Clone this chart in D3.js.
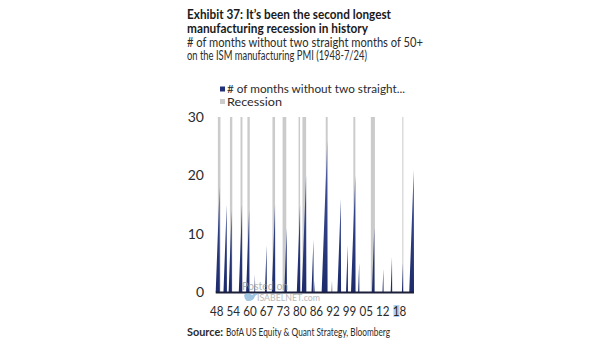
<!DOCTYPE html>
<html>
<head>
<meta charset="utf-8">
<script src="https://cdn.jsdelivr.net/npm/d3@7"></script>
<style>
  html, body { margin: 0; padding: 0; background: #fff; }
  svg { display: block; font-family: Lato, "Open Sans", sans-serif; }
</style>
</head>
<body>
<div id="chart"></div>
<script>
/* ISM manufacturing: months without two straight months of 50+ */

// NBER recessions, first and last month
const recessionStart = ['1948-11', '1953-07', '1957-08', '1960-04', '1969-12', '1973-11',
                        '1980-01', '1981-07', '1990-07', '2001-03', '2007-12', '2020-02'];
const recessionEnd   = ['1949-10', '1954-05', '1958-04', '1961-02', '1970-11', '1975-03',
                        '1980-07', '1982-11', '1991-03', '2001-11', '2009-06', '2020-04'];

// each run of the counter: month it peaked, and the count reached that month
const streakEnd    = ['1949-07', '1952-04', '1954-03', '1958-03', '1960-12', '1963-03',
                      '1967-09', '1970-12', '1975-06', '1980-08', '1982-12', '1985-10',
                      '1986-04', '1991-02', '1992-12', '1996-05', '1999-01', '2001-12',
                      '2003-06', '2009-04', '2012-10', '2016-02', '2020-05', '2024-07'];
const streakMonths = [18, 15, 14, 15, 14, 3,
                      8, 15, 11, 15, 20, 9,
                      2, 26, 2, 16, 8, 20,
                      5, 11, 4, 6, 5, 21];

// category axis labels, one every 77 months
const tickDates  = ['1948-01', '1954-06', '1960-11', '1967-04', '1973-09', '1980-02',
                    '1986-07', '1992-12', '1999-05', '2005-10', '2012-03', '2018-08'];
const tickLabels = ['48', '54', '60', '67', '73', '80', '86', '92', '99', '05', '12', '18'];
const yTicks = [0, 10, 20, 30];

const firstMonth = '1948-01';
const lastMonth  = '2024-07';

const W = 605, H = 341;
const NAVY = '#22327a';
const GREY = '#cbcbcb';
const TEXT = '#2b2b2b';

const parse = d3.timeParse('%Y-%m');
const nextMonth = d => d3.timeMonth.offset(d, 1);

const svg = d3.select('#chart').append('svg')
  .attr('width', W).attr('height', H)
  .style('background', '#fff');

const x = d3.scaleTime()
  .domain([parse(firstMonth), nextMonth(parse(lastMonth))])
  .range([215.7, 414]);
const y = d3.scaleLinear().domain([0, 30]).range([292, 117]);

// spikes get lighter toward their tips
const grad = svg.append('defs').append('linearGradient')
  .attr('id', 'spikeFill')
  .attr('gradientUnits', 'userSpaceOnUse')
  .attr('x1', 0).attr('x2', 0)
  .attr('y1', y(0)).attr('y2', y(30));
grad.append('stop').attr('offset', 0).attr('stop-color', '#1d2b6c');
grad.append('stop').attr('offset', 0.6).attr('stop-color', '#3a4c92');
grad.append('stop').attr('offset', 1).attr('stop-color', '#8e9acb');

// ── headings ──
function label(px, py, str, size, weight, fill, len) {
  const t = svg.append('text')
    .attr('x', px).attr('y', py)
    .attr('font-size', size).attr('font-weight', weight)
    .attr('fill', fill)
    .text(str);
  if (len) t.attr('textLength', len).attr('lengthAdjust', 'spacingAndGlyphs');
  return t;
}

label(187, 18.5, 'Exhibit 37: It\u2019s been the second longest', 14, 700, '#1a1a1a', 204);
label(187, 33, 'manufacturing recession in history', 14, 700, '#1a1a1a', 181);
label(187, 47, '# of months without two straight months of 50+', 12.5, 400, TEXT, 236);
label(187, 60, 'on the ISM manufacturing PMI (1948-7/24)', 12.5, 400, TEXT, 180);

// ── legend ──
const legend = [
  { name: '# of months without two straight...', color: NAVY, y: 86.5, len: 178 },
  { name: 'Recession', color: GREY, y: 99, len: 55 }
];
const lg = svg.append('g').selectAll('g').data(legend).join('g');
lg.append('rect')
  .attr('x', 220).attr('y', d => d.y)
  .attr('width', 5).attr('height', 5)
  .attr('fill', d => d.color);
lg.append('text')
  .attr('x', 227).attr('y', d => d.y + 6.5)
  .attr('font-size', 12).attr('fill', TEXT)
  .attr('textLength', d => d.len).attr('lengthAdjust', 'spacingAndGlyphs')
  .text(d => d.name);

// ── recession shading ──
svg.append('g').selectAll('rect')
  .data(recessionStart.map((s, i) => ({ start: parse(s), end: nextMonth(parse(recessionEnd[i])) })))
  .join('rect')
  .attr('x', d => x(d.start))
  .attr('width', d => Math.max(1, x(d.end) - x(d.start)))
  .attr('y', y(30))
  .attr('height', y(0) - y(30))
  .attr('fill', GREY);

// ── counter as a sawtooth area ──
const pts = [{ date: parse(firstMonth), v: 0 }];
streakEnd.forEach((e, i) => {
  const end = parse(e);
  pts.push({ date: d3.timeMonth.offset(end, -streakMonths[i]), v: 0 });
  pts.push({ date: end, v: streakMonths[i] });
  pts.push({ date: nextMonth(end), v: 0 });
});
pts.push({ date: nextMonth(parse(lastMonth)), v: 0 });

svg.append('path')
  .datum(pts)
  .attr('fill', 'url(#spikeFill)')
  .attr('d', d3.area()
    .x(d => x(d.date))
    .y0(y(0))
    .y1(d => y(d.v)));

// baseline
svg.append('line')
  .attr('x1', x.range()[0]).attr('x2', x.range()[1])
  .attr('y1', y(0) + 0.5).attr('y2', y(0) + 0.5)
  .attr('stroke', '#1b1f3a').attr('stroke-width', 2);

// ── y axis labels ──
svg.append('g').selectAll('text').data(yTicks).join('text')
  .attr('x', 204).attr('y', d => y(d))
  .attr('dy', '0.36em')
  .attr('text-anchor', 'end')
  .attr('font-size', 14).attr('fill', TEXT)
  .text(d => d);

// ── watermark ──
const wm = svg.append('g').attr('opacity', 0.75);
wm.append('text').attr('x', 242).attr('y', 289.5)
  .attr('font-size', 10.5).attr('fill', '#9a9a9a').text('Posted on');
wm.append('path')
  .attr('d', 'M244,295 q4,-4 8,0 q3,-3 6,-1 l-3,2 q-1,5 -7,5 q-3,0 -4,-6 z')
  .attr('fill', '#7fb2da');
wm.append('text').attr('x', 257).attr('y', 300.5)
  .attr('font-size', 10).attr('fill', '#a3a3a3')
  .attr('textLength', 63).attr('lengthAdjust', 'spacingAndGlyphs')
  .text('ISABELNET.com');

// ── x axis labels ──
const ticks = tickDates.map((d, i) => ({ date: parse(d), label: tickLabels[i] }));
const last = ticks[ticks.length - 1];
svg.append('rect')
  .attr('x', x(last.date) - 5).attr('y', 305)
  .attr('width', 6).attr('height', 12)
  .attr('fill', '#9cc6ea').attr('opacity', 0.8);

svg.append('g').selectAll('text').data(ticks).join('text')
  .attr('x', d => x(d.date) + 1)
  .attr('y', 315.5)
  .attr('text-anchor', 'middle')
  .attr('font-size', 14).attr('fill', TEXT)
  .attr('textLength', 13.5).attr('lengthAdjust', 'spacingAndGlyphs')
  .text(d => d.label);

// ── source ──
label(187, 336, 'Source:', 11.5, 700, TEXT, 36);
label(226, 336, 'BofA US Equity & Quant Strategy, Bloomberg', 11.5, 400, TEXT, 164);
</script>
</body>
</html>
